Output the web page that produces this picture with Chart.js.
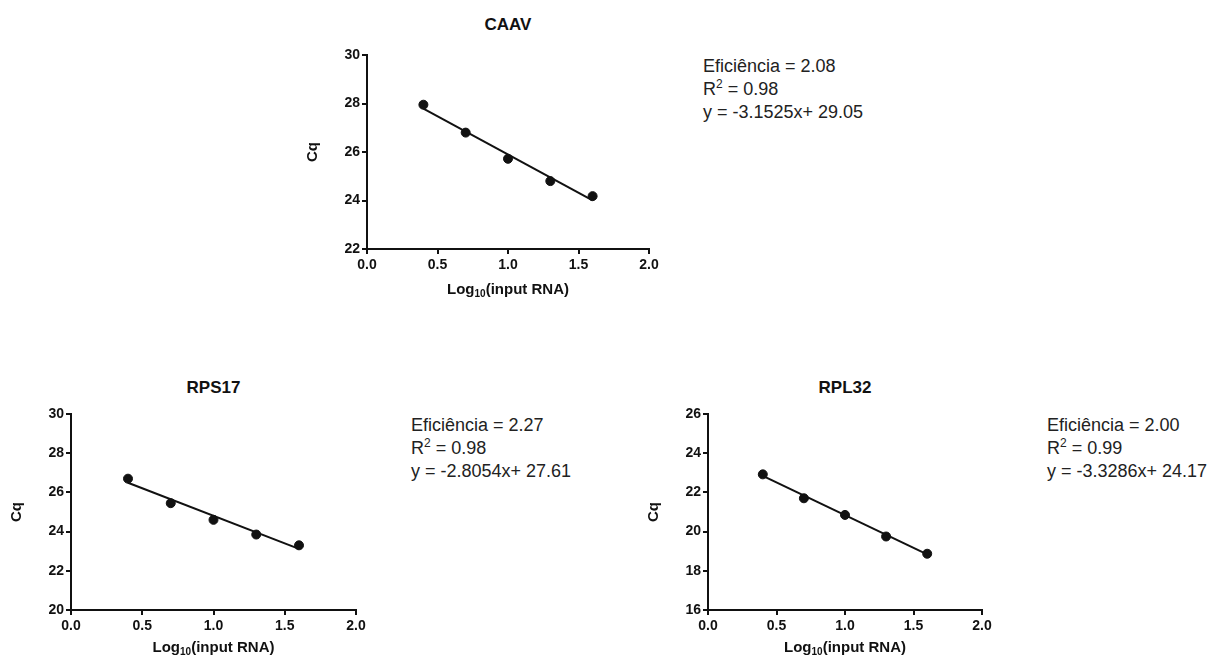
<!DOCTYPE html>
<html>
<head>
<meta charset="utf-8">
<script src="https://cdn.jsdelivr.net/npm/chart.js@4"></script>
<style>
	body { margin: 0; background: #fff; }
	#tela { position: relative; width: 1208px; height: 657px; overflow: hidden; font-family: "Liberation Sans", Arial, sans-serif; color: #111; }
	canvas { position: absolute; }
	.titulo { position: absolute; font-weight: bold; font-size: 17px; transform: translate(-50%, -50%); white-space: nowrap; }
	.eixoX { position: absolute; font-weight: bold; font-size: 15px; transform: translate(-50%, -50%); white-space: nowrap; }
	.eixoX sub { font-size: 10px; vertical-align: -3px; line-height: 0; }
	.info { position: absolute; font-size: 18px; line-height: 23px; white-space: nowrap; color: #222; }
	.info sup { font-size: 12px; vertical-align: 7px; line-height: 0; }
</style>
</head>
<body>
<div id="tela"></div>
<script>
	// log10 da quantidade de RNA (mesma diluicao nos tres genes)
	var logInputRNA = [0.4, 0.7, 1.0, 1.3, 1.6];

	var cqCAAV = [27.95, 26.8, 25.72, 24.8, 24.18];
	var cqRPS17 = [26.7, 25.45, 24.6, 23.85, 23.3];
	var cqRPL32 = [22.92, 21.7, 20.85, 19.75, 18.87];

	// extremos da reta de regressao
	var retaX = [0.4, 1.6];
	var retaCAAV = [27.79, 24.01];
	var retaRPS17 = [26.49, 23.12];
	var retaRPL32 = [22.84, 18.84];

	var ticksX = [0.0, 0.5, 1.0, 1.5, 2.0];

	var graficos = [
		{
			nome: 'CAAV', cq: cqCAAV, reta: retaCAAV, yMin: 22, yMax: 30,
			area: { left: 367, right: 649, top: 55, bottom: 249 },
			tituloY: 25, eixoXY: 288,
			info: { left: 703, top: 55, linhas: ['Eficiência = 2.08', 'R<sup>2</sup> = 0.98', 'y = -3.1525x+ 29.05'] }
		},
		{
			nome: 'RPS17', cq: cqRPS17, reta: retaRPS17, yMin: 20, yMax: 30,
			area: { left: 71, right: 356, top: 414, bottom: 610 },
			tituloY: 388, eixoXY: 646,
			info: { left: 411, top: 414, linhas: ['Eficiência = 2.27', 'R<sup>2</sup> = 0.98', 'y = -2.8054x+ 27.61'] }
		},
		{
			nome: 'RPL32', cq: cqRPL32, reta: retaRPL32, yMin: 16, yMax: 26,
			area: { left: 708, right: 982, top: 414, bottom: 610 },
			tituloY: 388, eixoXY: 646,
			info: { left: 1047, top: 414, linhas: ['Eficiência = 2.00', 'R<sup>2</sup> = 0.99', 'y = -3.3286x+ 24.17'] }
		}
	];

	var _tela = document.getElementById('tela');
	var _fonte = '"Liberation Sans", Arial, sans-serif';

	var LARGURA_Y = 70, ALTURA_X = 45, MARGEM_TOPO = 15, MARGEM_DIR = 25;

	function adicionarTexto(classe, html, left, top) {
		var div = document.createElement('div');
		div.className = classe;
		div.innerHTML = html;
		div.style.left = left + 'px';
		div.style.top = top + 'px';
		_tela.appendChild(div);
	}

	function criarGrafico(g) {
		var a = g.area;
		var canvas = document.createElement('canvas');
		var largura = (a.right - a.left) + LARGURA_Y + MARGEM_DIR;
		var altura = (a.bottom - a.top) + MARGEM_TOPO + ALTURA_X;
		canvas.width = largura;
		canvas.height = altura;
		canvas.style.width = largura + 'px';
		canvas.style.height = altura + 'px';
		canvas.style.left = (a.left - LARGURA_Y) + 'px';
		canvas.style.top = (a.top - MARGEM_TOPO) + 'px';
		_tela.appendChild(canvas);

		var pontos = logInputRNA.map(function(x, i) { return { x: x, y: g.cq[i] }; });
		var reta = retaX.map(function(x, i) { return { x: x, y: g.reta[i] }; });

		var eixo = {
			border: { display: true, color: '#111', width: 2 },
			grid: { display: true, drawOnChartArea: false, drawTicks: true, tickLength: 5, color: '#111', lineWidth: 2 }
		};

		new Chart(canvas.getContext('2d'), {
			type: 'scatter',
			data: {
				datasets: [
					{
						label: g.nome,
						data: pontos,
						backgroundColor: '#111',
						borderColor: '#111',
						pointRadius: 4.5,
						pointHoverRadius: 4.5
					},
					{
						label: 'reta',
						data: reta,
						showLine: true,
						borderColor: '#111',
						borderWidth: 2,
						pointRadius: 0,
						fill: false
					}
				]
			},
			options: {
				responsive: false,
				animation: false,
				events: [],
				layout: { padding: { left: 0, top: MARGEM_TOPO, right: MARGEM_DIR, bottom: 0 } },
				plugins: { legend: { display: false }, tooltip: { enabled: false }, title: { display: false } },
				scales: {
					x: Object.assign({
						type: 'linear', min: 0, max: 2,
						afterBuildTicks: function(s) { s.ticks = ticksX.map(function(v) { return { value: v }; }); },
						afterFit: function(s) { s.height = ALTURA_X; },
						ticks: {
							padding: 3,
							color: '#111',
							font: { family: _fonte, size: 14, weight: 'bold' },
							callback: function(v) { return Number(v).toFixed(1); }
						}
					}, eixo),
					y: Object.assign({
						type: 'linear', min: g.yMin, max: g.yMax,
						afterFit: function(s) { s.width = LARGURA_Y; },
						ticks: {
							stepSize: 2,
							padding: 2,
							color: '#111',
							font: { family: _fonte, size: 14, weight: 'bold' }
						},
						title: {
							display: true,
							text: 'Cq',
							color: '#111',
							padding: { top: 7, bottom: 0 },
							font: { family: _fonte, size: 15, weight: 'bold' }
						}
					}, eixo)
				}
			}
		});

		var centro = (a.left + a.right) / 2;
		adicionarTexto('titulo', g.nome, centro, g.tituloY);
		adicionarTexto('eixoX', 'Log<sub>10</sub>(input RNA)', centro, g.eixoXY);
		adicionarTexto('info', g.info.linhas.join('<br>'), g.info.left, g.info.top);
	}

	graficos.forEach(criarGrafico);
</script>
</body>
</html>
